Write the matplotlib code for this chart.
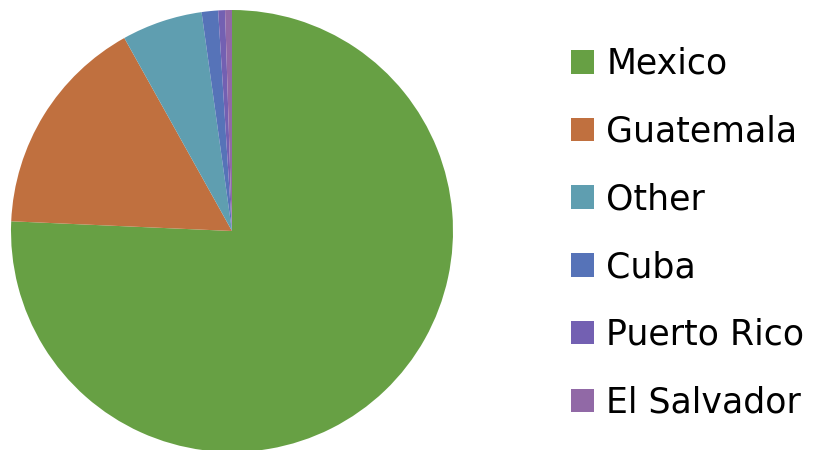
import matplotlib
matplotlib.use("Agg")
import matplotlib.pyplot as plt
from matplotlib.patches import Patch

labels = ["Mexico", "Guatemala", "Other", "Cuba", "Puerto Rico", "El Salvador"]
values = [75.7, 16.2, 5.9, 1.2, 0.5, 0.5]
colors = ["#67A044", "#C0703F", "#5F9EB0", "#5673B8", "#7360B2", "#9169A6"]

W, H = 827, 450
fig = plt.figure(figsize=(W / 100, H / 100), dpi=100)
cx, cy, r = 232, 231, 221
ax = fig.add_axes([(cx - r) / W, (H - cy - r) / H, 2 * r / W, 2 * r / H])
ax.pie(values, colors=colors, startangle=90, counterclock=False, radius=1,
       wedgeprops=dict(linewidth=0))
ax.set_xlim(-1, 1)
ax.set_ylim(-1, 1)
ax.set_aspect("equal")
ax.axis("off")

handles = [Patch(facecolor=c, edgecolor="none") for c in colors]
leg = fig.legend(handles, labels, loc="upper left",
                 bbox_to_anchor=(571 / W, 1 - 47 / H),
                 frameon=False, prop=dict(family="DejaVu Sans", size=25),
                 handlelength=0.66, handleheight=0.66, handletextpad=0.36,
                 labelspacing=0.97, borderaxespad=0, borderpad=0)
fig.savefig("out.png", dpi=100)
